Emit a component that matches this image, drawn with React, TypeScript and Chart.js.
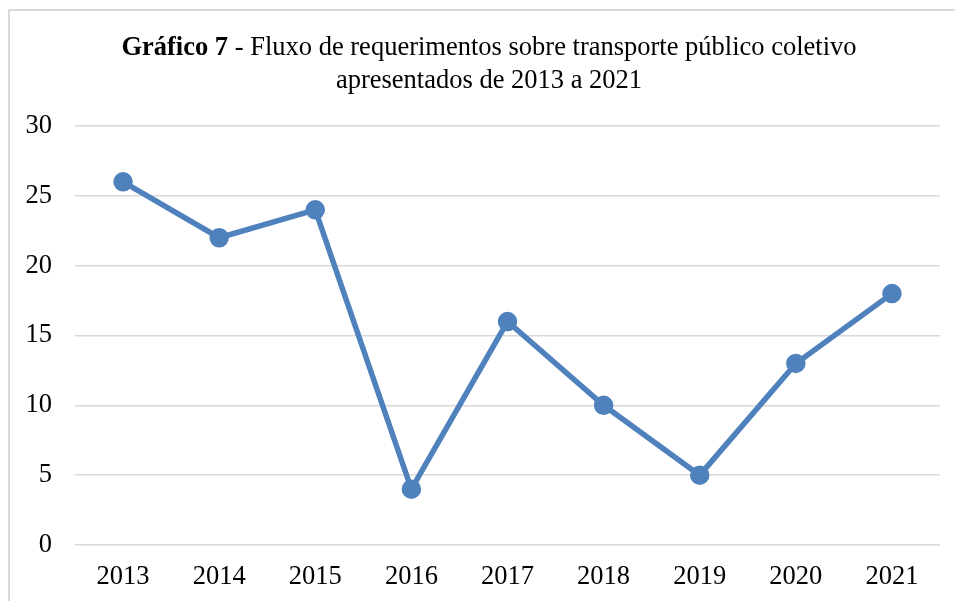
import React, { useEffect, useRef } from "react";
import { Chart, registerables } from "chart.js";

Chart.register(...registerables);

const categories: string[] = ["2013", "2014", "2015", "2016", "2017", "2018", "2019", "2020", "2021"];
const values: number[] = [26, 22, 24, 4, 16, 10, 5, 13, 18];
const titleBold = "Gráfico 7";
const titleRest = " - Fluxo de requerimentos sobre transporte público coletivo";
const titleLine2 = "apresentados de 2013 a 2021";

const FONT = "'Liberation Serif', 'Times New Roman', serif";
const FS = 26.5;

export default function App() {
  const ref = useRef<HTMLCanvasElement | null>(null);

  useEffect(() => {
    if (!ref.current) return;
    const chart = new Chart(ref.current, {
      type: "line",
      data: {
        labels: categories,
        datasets: [
          {
            data: values,
            borderColor: "#4F81BD",
            backgroundColor: "#4F81BD",
            borderWidth: 5.5,
            pointRadius: 7,
            pointHoverRadius: 7,
            pointBackgroundColor: "#4F81BD",
            pointBorderColor: "#4F81BD",
            tension: 0,
          },
        ],
      },
      options: {
        responsive: false,
        animation: false,
        layout: { padding: { top: 126, right: 15, left: 0, bottom: 0 } },
        plugins: { legend: { display: false }, title: { display: false }, tooltip: { enabled: false } },
        scales: {
          x: {
            offset: true,
            grid: { display: false, drawTicks: false },
            border: { display: false },
            ticks: { color: "#000", font: { family: FONT, size: FS }, padding: 16, maxRotation: 0 },
            afterFit: (s: any) => { s.height = 56; },
          },
          y: {
            min: 0,
            max: 30,
            grid: { color: "#d9d9d9", lineWidth: 1.5, drawTicks: false },
            border: { display: false },
            ticks: { stepSize: 5, color: "#000", font: { family: FONT, size: FS }, padding: 23 },
            afterFit: (s: any) => { s.width = 75; },
          },
        },
      },
    });
    return () => chart.destroy();
  }, []);

  return (
    <div style={{ position: "absolute", left: 0, top: 0, width: 955, height: 601, overflow: "hidden", background: "#fff" }}>
      <div style={{ position: "absolute", left: 8, top: 9, width: 2000, height: 1000, border: "2px solid #d9d9d9", boxSizing: "border-box" }} />
      <canvas ref={ref} width={955} height={601} style={{ position: "absolute", left: 0, top: 0 }} />
      <div
        style={{
          position: "absolute",
          left: 0,
          top: 30,
          width: 955,
          paddingLeft: 23,
          boxSizing: "border-box",
          textAlign: "center",
          fontFamily: FONT,
          fontSize: FS,
          lineHeight: "33px",
          color: "#000",
          whiteSpace: "nowrap",
        }}
      >
        <div>
          <b>{titleBold}</b>
          {titleRest}
        </div>
        <div>{titleLine2}</div>
      </div>
    </div>
  );
}
